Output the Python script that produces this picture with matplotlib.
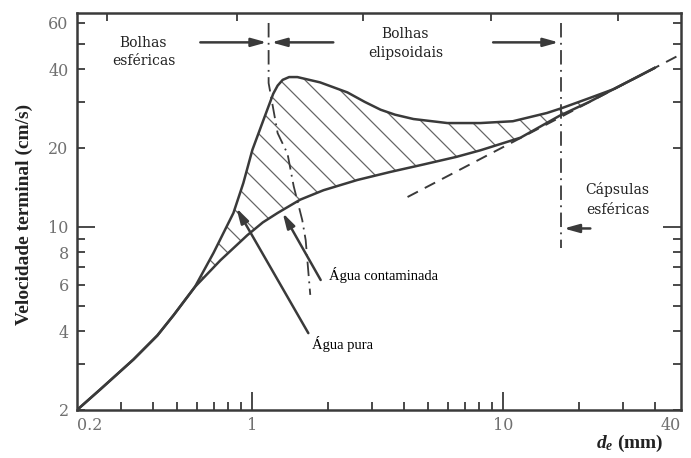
import numpy as np
import matplotlib
matplotlib.use('Agg')
import matplotlib.pyplot as plt
from matplotlib.ticker import FixedLocator, NullFormatter, NullLocator

# figura a 75 dpi para a hachura ficar com o espaçamento do original;
# k converte tamanhos pensados para 100 dpi
k = 100 / 75

plt.rcParams['font.family'] = ['DejaVu Serif']
plt.rcParams['mathtext.fontset'] = 'custom'
plt.rcParams['mathtext.it'] = 'Liberation Serif:italic:bold'
plt.rcParams['mathtext.rm'] = 'Liberation Serif:bold'
plt.rcParams['hatch.linewidth'] = 0.9 * k

# água pura (curva de cima)
d_pura = [0.2, 0.248, 0.336, 0.418, 0.485, 0.59, 0.70, 0.84, 0.92, 1.0, 1.11, 1.21,
          1.26, 1.32, 1.40, 1.51, 1.86, 2.39, 2.8, 3.24, 3.7, 4.38, 5.98, 8.1, 10.9,
          14.9, 17.1, 22.0, 27.4, 35, 40]
u_pura = [2.0, 2.40, 3.12, 3.85, 4.6, 5.9, 7.96, 11.3, 14.7, 19.7, 25.8, 32.2,
          34.6, 36.4, 37.3, 37.3, 35.6, 32.6, 30.0, 28.0, 26.8, 25.8, 24.9, 24.9, 25.3,
          27.2, 28.4, 31.0, 33.5, 37.8, 40.4]

# água contaminada (curva de baixo)
d_cont = [0.2, 0.248, 0.336, 0.418, 0.485, 0.59, 0.746, 0.955, 1.1, 1.26, 1.55, 1.92,
          2.62, 3.54, 4.8, 6.5, 8.1, 11.7, 16.8, 22.0, 27.4, 35, 40]
u_cont = [2.0, 2.40, 3.12, 3.85, 4.6, 5.9, 7.46, 9.3, 10.4, 11.3, 12.7, 13.8,
          15.1, 16.2, 17.3, 18.5, 19.6, 21.9, 26.6, 30.0, 33.5, 37.8, 40.4]

# assintota (capsulas esfericas)
d_assint = [4.15, 51]
u_assint = [13.0, 45.6]

# limites entre regimes (traço-ponto)
d_lim1 = [1.16, 1.16, 1.26, 1.38, 1.46, 1.58, 1.63, 1.70]
u_lim1 = [60, 35.4, 22.8, 19.0, 14.3, 10.6, 8.9, 5.5]
d_lim2 = [17.0, 17.0]
u_lim2 = [60, 8.3]

xticks = [0.2, 1, 10, 51]
xtick_labels = ['0.2', '1', '10', '40']
xminor = [0.3, 0.4, 0.5, 0.6, 0.7, 0.8, 0.9, 2, 3, 4, 5, 6, 7, 8, 9, 20, 30, 40]
yticks = [2, 4, 6, 8, 10, 20, 40, 60]
yminor = [3, 5, 7, 9, 30, 50]
top_ticks = [0.264, 0.87, 2.77, 8.9, 28.6]

cor = '#3a3a3a'

fig = plt.figure(figsize=(691 / 75, 458 / 75), dpi=75)
ax = fig.add_axes([77 / 691, 1 - 410 / 458, 604 / 691, 397 / 458])
ax.set_xscale('log')
ax.set_yscale('log')
ax.set_xlim(0.2, 51)
ax.set_ylim(2, 65.5)

# area hachurada entre as duas curvas
ax.fill(d_pura + d_cont[::-1], u_pura + u_cont[::-1], facecolor='none',
        edgecolor='#666666', linewidth=0, hatch='\\')
ax.plot(d_pura, u_pura, color=cor, lw=1.8 * k)
ax.plot(d_cont, u_cont, color=cor, lw=1.8 * k)
ax.plot(d_assint, u_assint, color=cor, lw=1.4 * k, linestyle=(0, (6, 4)))
ax.plot(d_lim1, u_lim1, color=cor, lw=1.3 * k, linestyle=(0, (8, 3, 1, 3)))
ax.plot(d_lim2, u_lim2, color=cor, lw=1.3 * k, linestyle=(0, (8, 3, 1, 3)))

seta = dict(arrowstyle='-|>,head_length=0.9,head_width=0.25', color=cor, lw=1.8 * k,
            shrinkA=0, shrinkB=0, mutation_scale=10 * k)
ax.annotate('', xy=(1.14, 50.6), xytext=(0.62, 50.6), arrowprops=seta)
ax.annotate('', xy=(1.19, 50.6), xytext=(2.10, 50.6), arrowprops=seta)
ax.annotate('', xy=(16.6, 50.6), xytext=(9.1, 50.6), arrowprops=seta)
ax.annotate('', xy=(17.4, 9.86), xytext=(22.2, 9.86), arrowprops=seta)
ax.annotate('', xy=(1.32, 11.3), xytext=(1.87, 6.27), arrowprops=seta)
ax.annotate('', xy=(0.863, 11.8), xytext=(1.67, 3.93), arrowprops=seta)

ax.text(0.368, 46.5, 'Bolhas\nesféricas', ha='center', va='center', fontsize=10 * k,
        linespacing=1.45, color='#222222')
ax.text(4.07, 50.1, 'Bolhas\nelipsoidais', ha='center', va='center', fontsize=10 * k,
        linespacing=1.45, color='#222222')
ax.text(28.5, 12.7, 'Cápsulas\nesféricas', ha='center', va='center', fontsize=10 * k,
        linespacing=1.5, color='#222222')
ax.text(2.01, 6.54, 'Água contaminada', ha='left', va='center', fontsize=10.5 * k,
        family='Liberation Serif', color='black')
ax.text(1.73, 3.57, 'Água pura', ha='left', va='center', fontsize=10.5 * k,
        family='Liberation Serif', color='black')

ax.set_xticks(xticks, xtick_labels)
ax.xaxis.set_minor_locator(FixedLocator(xminor))
ax.xaxis.set_minor_formatter(NullFormatter())
ax.set_yticks(yticks, [str(v) for v in yticks])
ax.yaxis.set_minor_locator(FixedLocator(yminor))
ax.yaxis.set_minor_formatter(NullFormatter())
ax.tick_params(which='both', direction='in', right=True, length=6 * k, width=1.3 * k,
               color=cor, labelcolor='#707070', labelsize=11.5 * k)
ax.tick_params(axis='x', pad=5 * k)
ax.tick_params(axis='y', pad=6 * k)

for t in ax.xaxis.get_major_ticks():
    t.tick1line.set_markersize(13 * k)
ax.xaxis.get_major_ticks()[0].tick1line.set_markersize(0)
ax.xaxis.get_major_ticks()[-1].tick1line.set_markersize(0)
yt = ax.yaxis.get_major_ticks()
yt[4].tick1line.set_markersize(13 * k)
yt[4].tick2line.set_markersize(13 * k)
xl = ax.get_xticklabels()
xl[0].set_horizontalalignment('left')
xl[-1].set_horizontalalignment('right')

for s in ax.spines.values():
    s.set_color(cor)
    s.set_linewidth(1.8 * k)

topo = ax.twiny()
topo.set_xscale('log')
topo.set_xlim(ax.get_xlim())
topo.set_xticks(top_ticks)
topo.set_xticklabels([])
topo.xaxis.set_minor_locator(NullLocator())
topo.tick_params(direction='in', length=6 * k, width=1.3 * k, color=cor)
for s in topo.spines.values():
    s.set_visible(False)

fig.text(24.5 / 691, 1 - 214 / 458, 'Velocidade terminal (cm/s)', rotation=90,
         ha='center', va='center', fontsize=14 * k, fontweight='bold',
         family='Liberation Serif', color='#222222')
fig.text(663 / 691, 1 - 443 / 458, r'$d_e$ (mm)', ha='right', va='center',
         fontsize=14 * k, fontweight='bold', family='Liberation Serif', color='#222222')

fig.savefig('out.png', dpi=75)
